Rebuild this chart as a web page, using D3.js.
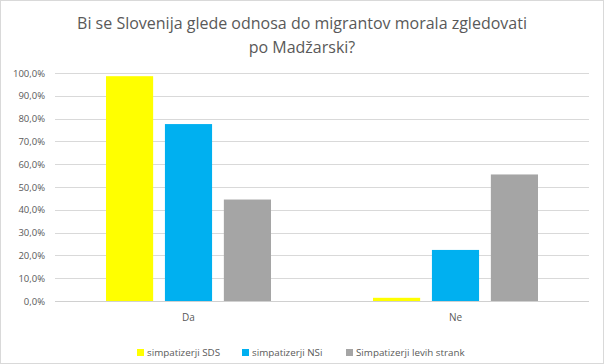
<!DOCTYPE html>
<html>
<head>
<meta charset="utf-8">
<script src="https://cdn.jsdelivr.net/npm/d3@7"></script>
<style>
  body { margin: 0; background: #fff; }
  svg { display: block; font-family: "Open Sans", "Liberation Sans", sans-serif; }
</style>
</head>
<body>
<div id="chart"></div>
<script>
// ========== Data ==========
const categories = ["Da", "Ne"];
const seriesNames = ["simpatizerji SDS", "simpatizerji NSi", "Simpatizerji levih strank"];
const seriesColors = ["#ffff00", "#00b0f0", "#a5a5a5"];
const sdsValues = [0.986, 0.014];
const nsiValues = [0.776, 0.224];
const leviValues = [0.445, 0.555];
const yTicks = [0, 0.1, 0.2, 0.3, 0.4, 0.5, 0.6, 0.7, 0.8, 0.9, 1.0];
const titleLines = ["Bi se Slovenija glede odnosa do migrantov morala zgledovati", "po Madžarski?"];

const allSeries = [sdsValues, nsiValues, leviValues];

// ========== Chart ==========
const width = 604, height = 364;
const plot = { left: 55, right: 589, top: 73, bottom: 301 };

const svg = d3.select("#chart").append("svg")
    .attr("width", width)
    .attr("height", height);

// Outer border
svg.append("rect")
    .attr("x", 0.5).attr("y", 0.5)
    .attr("width", width - 1).attr("height", height - 1)
    .attr("fill", "#fff")
    .attr("stroke", "#d9d9d9");

// Title
svg.append("g").selectAll("text")
    .data(titleLines)
    .enter().append("text")
    .attr("x", width / 2)
    .attr("y", (d, i) => 29 + i * 24)
    .attr("text-anchor", "middle")
    .attr("font-size", 16)
    .attr("fill", "#595959")
    .text(d => d);

const x0 = d3.scaleBand()
    .domain(categories)
    .range([plot.left, plot.right])
    .padding(0);

const groupPad = 51;
const x1 = d3.scaleBand()
    .domain(d3.range(seriesNames.length))
    .range([groupPad, x0.bandwidth() - groupPad])
    .paddingInner(0.2);

const y = d3.scaleLinear()
    .domain([0, 1])
    .range([plot.bottom, plot.top]);

// Gridlines
svg.append("g")
    .selectAll("line")
    .data(yTicks)
    .enter().append("line")
    .attr("x1", plot.left)
    .attr("x2", plot.right)
    .attr("y1", d => Math.round(y(d)) + 0.5)
    .attr("y2", d => Math.round(y(d)) + 0.5)
    .attr("stroke", d => d === 0 ? "#d0d0d0" : "#d9d9d9")
    .attr("stroke-width", 1);

// Y axis labels
const fmt = d => (d * 100).toFixed(1).replace(".", ",") + "%";
svg.append("g")
    .selectAll("text")
    .data(yTicks)
    .enter().append("text")
    .attr("x", 45)
    .attr("y", d => y(d) + 3.5)
    .attr("text-anchor", "end")
    .attr("font-size", 9.5)
    .attr("fill", "#595959")
    .text(fmt);

// Bars
const groups = svg.append("g")
    .selectAll("g")
    .data(categories)
    .enter().append("g")
    .attr("transform", d => `translate(${x0(d)},0)`);

groups.selectAll("rect")
    .data((d, ci) => allSeries.map((s, si) => ({ si, v: s[ci] })))
    .enter().append("rect")
    .attr("x", d => x1(d.si))
    .attr("width", x1.bandwidth())
    .attr("y", d => y(d.v))
    .attr("height", d => y(0) - y(d.v))
    .attr("fill", d => seriesColors[d.si]);

// Category labels
svg.append("g")
    .selectAll("text")
    .data(categories)
    .enter().append("text")
    .attr("x", d => x0(d) + x0.bandwidth() / 2)
    .attr("y", 321)
    .attr("text-anchor", "middle")
    .attr("font-size", 10)
    .attr("fill", "#595959")
    .text(d => d);

// Legend
const legendX = [137, 242, 346];
const legend = svg.append("g")
    .selectAll("g")
    .data(seriesNames)
    .enter().append("g")
    .attr("transform", (d, i) => `translate(${legendX[i]},349)`);

legend.append("rect")
    .attr("width", 7)
    .attr("height", 7)
    .attr("fill", (d, i) => seriesColors[i]);

legend.append("text")
    .attr("x", 10)
    .attr("y", 7)
    .attr("font-size", 9.8)
    .attr("fill", "#595959")
    .text(d => d);
</script>
</body>
</html>
